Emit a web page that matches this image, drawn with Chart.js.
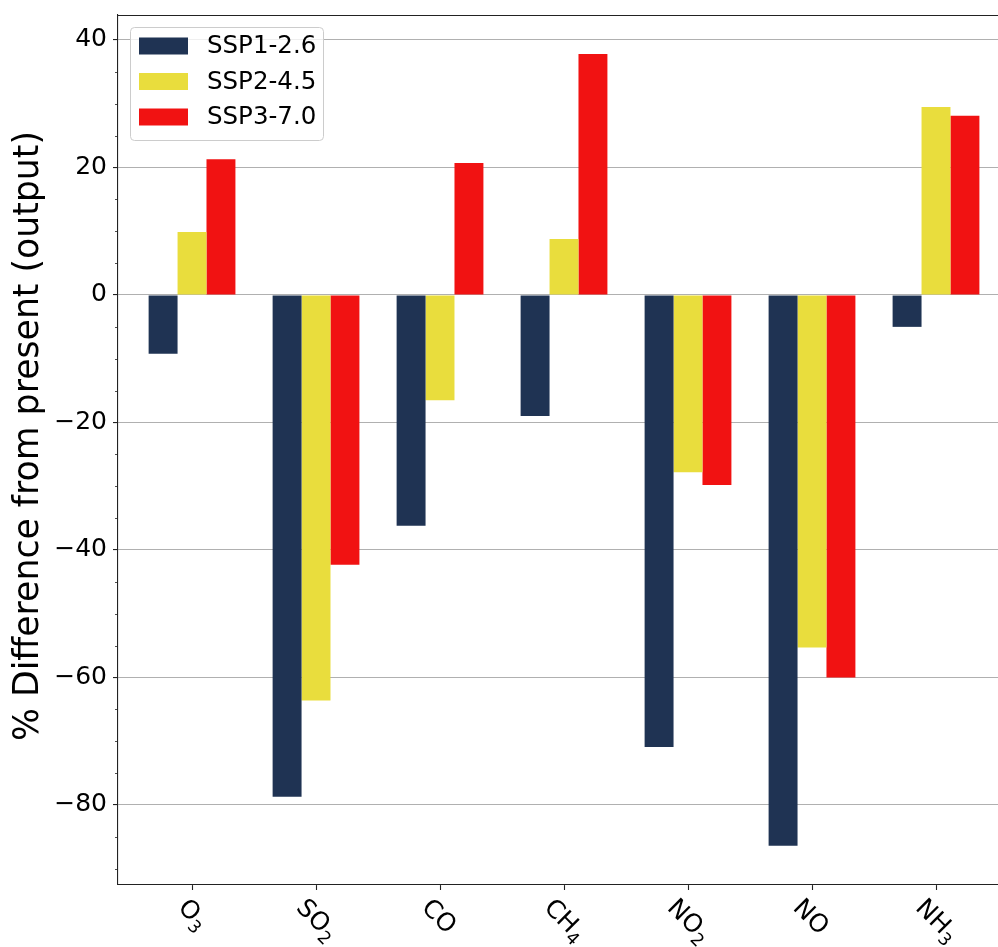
<!DOCTYPE html>
<html>
<head>
<meta charset="utf-8">
<script src="https://cdn.jsdelivr.net/npm/chart.js@4.4.1/dist/chart.umd.min.js"></script>
<style>
  html, body { margin: 0; padding: 0; background: #fff; overflow: hidden; }
  #wrap { width: 998px; height: 947px; position: relative; }
</style>
</head>
<body>
<div id="wrap"><canvas id="c"></canvas></div>
<script>
// Species (chemical formula split into main part and subscript)
const species    = ['O', 'SO', 'CO', 'CH', 'NO', 'NO', 'NH'];
const speciesSub = ['3', '2',  '',   '4',  '2',  '',   '3'];

// Scenario names and % change from present for each species
const scenarios = ['SSP1-2.6', 'SSP2-4.5', 'SSP3-7.0'];
const ssp126 = [-9.2, -78.7, -36.2, -19.0, -70.9, -86.4, -5.0];
const ssp245 = [ 9.9, -63.6, -16.5,   8.8, -27.8, -55.3, 29.5];
const ssp370 = [21.3, -42.3,  20.7,  37.8, -29.8, -60.0, 28.1];

// Axis ticks
const yTickValues = [-80, -60, -40, -20, 0, 20, 40];
const yMinorStep = 5;

const seriesColors = ['#1f3353', '#e9dd3d', '#f11212'];
const FONT = '"DejaVu Sans", "Liberation Sans", sans-serif';

const toPoints = arr => arr.map((v, i) => ({ x: i, y: v }));
const seriesValues = [ssp126, ssp245, ssp370];

// Top spine (the box outline above the plot)
const topSpine = {
  id: 'topSpine',
  afterDraw(chart) {
    const { ctx, chartArea: ca } = chart;
    ctx.save();
    ctx.strokeStyle = '#222';
    ctx.lineWidth = 1.1;
    ctx.beginPath();
    ctx.moveTo(ca.left, ca.top + 0.5);
    ctx.lineTo(ca.right, ca.top + 0.5);
    ctx.stroke();
    ctx.restore();
  }
};

// Minor ticks on the y axis
const minorTicks = {
  id: 'minorTicks',
  afterDraw(chart) {
    const { ctx, chartArea: ca } = chart;
    const ys = chart.scales.y;
    ctx.save();
    ctx.strokeStyle = '#222';
    ctx.lineWidth = 0.8;
    const start = Math.ceil(ys.min / yMinorStep) * yMinorStep;
    for (let v = start; v <= ys.max; v += yMinorStep) {
      if (yTickValues.includes(v)) continue;
      const py = Math.round(ys.getPixelForValue(v)) + 0.5;
      ctx.beginPath();
      ctx.moveTo(ca.left - 3, py);
      ctx.lineTo(ca.left, py);
      ctx.stroke();
    }
    ctx.restore();
  }
};

// Rotated category labels with subscripts
const xLabels = {
  id: 'xLabels',
  afterDraw(chart) {
    const { ctx, chartArea: ca } = chart;
    const xs = chart.scales.x;
    const fs = 25, sfs = 17.5, drop = 6, th = Math.PI / 4;
    const y0 = ca.bottom + 11;
    species.forEach((base, i) => {
      ctx.save();
      ctx.font = `${fs}px ${FONT}`;
      const m = ctx.measureText(base);
      const wMain = m.width;
      const asc = m.actualBoundingBoxAscent;
      let desc = Math.max(0, m.actualBoundingBoxDescent);
      let wSub = 0;
      if (speciesSub[i]) {
        ctx.font = `${sfs}px ${FONT}`;
        const ms = ctx.measureText(speciesSub[i]);
        wSub = ms.width;
        desc = Math.max(desc, drop + ms.actualBoundingBoxDescent);
      }
      const W = wMain + wSub;
      const c = Math.cos(th), s = Math.sin(th);
      const pts = [[0, -asc], [W, -asc], [0, desc], [W, desc]].map(([x, y]) => [x * c - y * s, x * s + y * c]);
      const minX = Math.min(...pts.map(p => p[0])), maxX = Math.max(...pts.map(p => p[0]));
      const minY = Math.min(...pts.map(p => p[1]));
      const px = xs.getPixelForValue(i);
      ctx.translate(px - (minX + maxX) / 2, y0 - minY);
      ctx.rotate(th);
      ctx.fillStyle = '#000';
      ctx.textBaseline = 'alphabetic';
      ctx.textAlign = 'left';
      ctx.font = `${fs}px ${FONT}`;
      ctx.fillText(base, 0, 0);
      if (speciesSub[i]) {
        ctx.font = `${sfs}px ${FONT}`;
        ctx.fillText(speciesSub[i], wMain, drop);
      }
      ctx.restore();
    });
  }
};

// Y axis title
const yTitle = {
  id: 'yTitle',
  afterDraw(chart) {
    const { ctx, chartArea: ca } = chart;
    ctx.save();
    ctx.translate(38, (ca.top + ca.bottom) / 2 - 14);
    ctx.rotate(-Math.PI / 2);
    ctx.font = `34.7px ${FONT}`;
    ctx.fillStyle = '#000';
    ctx.textAlign = 'center';
    ctx.textBaseline = 'alphabetic';
    ctx.fillText('% Difference from present (output)', 0, 0);
    ctx.restore();
  }
};

function roundRectPath(ctx, x, y, w, h, r) {
  ctx.beginPath();
  ctx.moveTo(x + r, y);
  ctx.lineTo(x + w - r, y);
  ctx.arcTo(x + w, y, x + w, y + r, r);
  ctx.lineTo(x + w, y + h - r);
  ctx.arcTo(x + w, y + h, x + w - r, y + h, r);
  ctx.lineTo(x + r, y + h);
  ctx.arcTo(x, y + h, x, y + h - r, r);
  ctx.lineTo(x, y + r);
  ctx.arcTo(x, y, x + r, y, r);
  ctx.closePath();
}

// Legend drawn inside the plot, upper left
const legendBox = {
  id: 'legendBox',
  afterDraw(chart) {
    const { ctx, chartArea: ca } = chart;
    const x = ca.left + 12, y = ca.top + 12, w = 193, h = 113;
    ctx.save();
    roundRectPath(ctx, x + 0.5, y + 0.5, w, h, 4);
    ctx.fillStyle = 'rgba(255,255,255,0.8)';
    ctx.fill();
    ctx.strokeStyle = '#cccccc';
    ctx.lineWidth = 1;
    ctx.stroke();
    chart.data.datasets.forEach((ds, i) => {
      const cy = y + 19 + i * 35.5;
      ctx.fillStyle = ds.backgroundColor;
      ctx.fillRect(x + 9, cy - 8.5, 49, 17);
      ctx.fillStyle = '#000';
      ctx.font = `24.5px ${FONT}`;
      ctx.textBaseline = 'middle';
      ctx.textAlign = 'left';
      ctx.fillText(ds.label, x + 77, cy + 1);
    });
    ctx.restore();
  }
};

new Chart(document.getElementById('c'), {
  type: 'bar',
  data: {
    datasets: scenarios.map((name, k) => ({
      label: name,
      data: toPoints(seriesValues[k]),
      backgroundColor: seriesColors[k],
      borderWidth: 0,
      categoryPercentage: 0.7,
      barPercentage: 1.0
    }))
  },
  options: {
    responsive: true,
    maintainAspectRatio: false,
    devicePixelRatio: 1,
    animation: false,
    layout: { padding: { top: 15, left: 0, right: 0, bottom: 0 } },
    plugins: {
      legend: { display: false },
      tooltip: { enabled: false }
    },
    scales: {
      x: {
        type: 'linear',
        min: -0.597,
        max: 6.5,
        offset: false,
        afterBuildTicks: s => { s.ticks = species.map((_, i) => ({ value: i })); },
        afterFit: s => { s.height = 62; s.paddingLeft = 0; s.paddingRight = 0; },
        ticks: { display: false },
        grid: {
          offset: false,
          drawOnChartArea: false,
          drawTicks: true,
          tickLength: 5,
          tickColor: '#222',
          tickWidth: 1.1
        },
        border: { display: true, color: '#222', width: 1.1 }
      },
      y: {
        type: 'linear',
        min: -92.55,
        max: 43.92,
        afterBuildTicks: s => { s.ticks = yTickValues.map(v => ({ value: v })); },
        afterFit: s => { s.width = 118; s.paddingTop = 0; s.paddingBottom = 0; },
        ticks: {
          color: '#000',
          padding: 6,
          font: { family: FONT, size: 25 },
          callback: v => (v < 0 ? '\u2212' + Math.abs(v) : String(v))
        },
        grid: {
          color: '#b0b0b0',
          lineWidth: 1.1,
          drawTicks: true,
          tickLength: 5,
          tickColor: '#222',
          tickWidth: 1.1
        },
        border: { display: true, color: '#222', width: 1.1 }
      }
    }
  },
  plugins: [topSpine, minorTicks, xLabels, yTitle, legendBox]
});
</script>
</body>
</html>
